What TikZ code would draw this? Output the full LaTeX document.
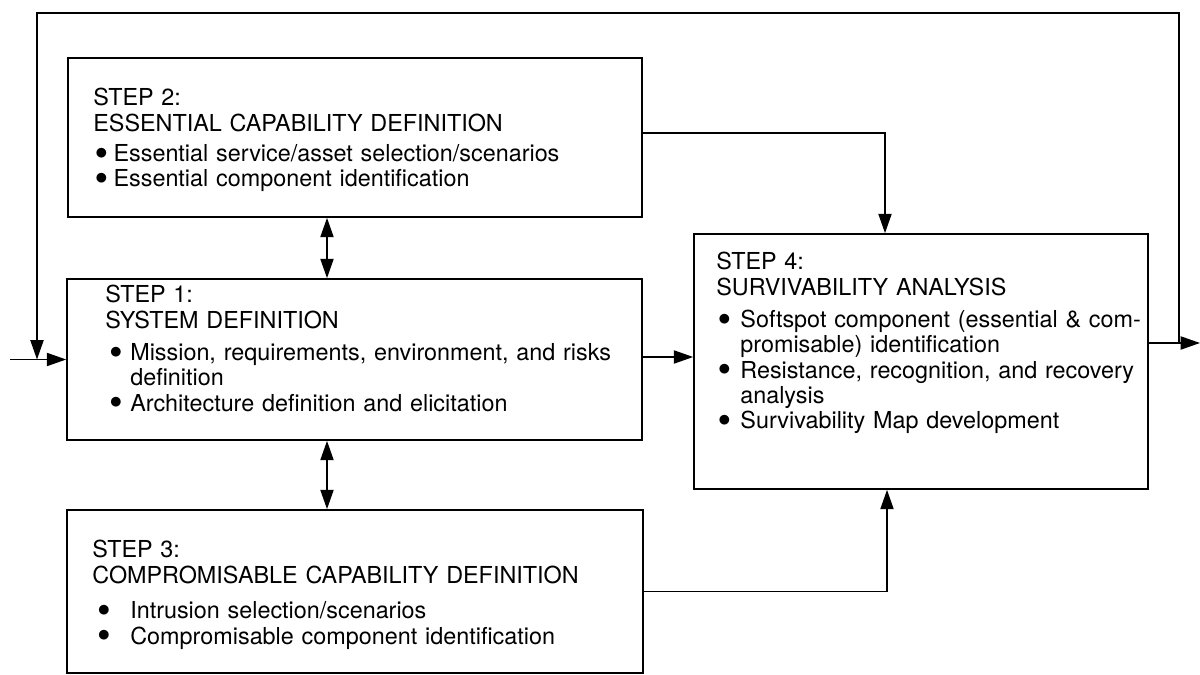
\documentclass[tikz,border=0pt]{standalone}
\usepackage{fontspec}
\setmainfont{TeX Gyre Heros}
\usetikzlibrary{arrows.meta, positioning, calc}

\newlength{\bulind}
\newlength{\txtind}
\newcommand{\setind}[2]{\setlength{\bulind}{#1}\setlength{\txtind}{#2}}
\newcommand{\bul}[1]{\par\hangindent=\txtind\hangafter=1\noindent\makebox[\txtind][l]{\hspace*{\bulind}\raisebox{1.3pt}{$\bullet$}}#1}

\begin{document}
\begin{tikzpicture}[
    x=0.02cm, y=-0.02cm,
    box/.style={rectangle, draw, line width=1pt, inner sep=0pt},
    txt/.style={anchor=north west, inner sep=0pt, align=left, font=\fontsize{13.3pt}{14.4pt}\selectfont},
    arrow/.style={-{Triangle[length=11pt, width=7.5pt]}, line width=0.8pt},
    dblarrow/.style={{Triangle[length=11pt, width=7.5pt]}-{Triangle[length=11pt, width=7.5pt]}, line width=0.8pt}
]
    \useasboundingbox (0,0) rectangle (1200,675);

    % Boxes
    \node[box, minimum width=11.48cm, minimum height=3.18cm] (s2) at (355,137.5) {};
    \node[box, minimum width=11.5cm, minimum height=3.22cm] (s1) at (354.5,359.5) {};
    \node[box, minimum width=11.52cm, minimum height=3.26cm] (s3) at (355,591.5) {};
    \node[box, minimum width=9.08cm, minimum height=5.1cm] (s4) at (921,361.5) {};

    % Texts
    \node[txt, text width=10.8cm] (s2t) at (93,88) {\setind{1pt}{11.5pt}STEP 2:\\ESSENTIAL CAPABILITY DEFINITION\par\vspace{3pt}%
        \bul{Essential service/asset selection/scenarios}%
        \bul{Essential component identification}};
    \node[txt, text width=10.8cm] (s1t) at (105,285) {\setind{2.5pt}{14.2pt}STEP 1:\\SYSTEM DEFINITION\par\vspace{4pt}%
        \bul{Mission, requirements, environment, and risks\newline definition}%
        \bul{Architecture definition and elicitation}};
    \node[txt, text width=10.8cm] (s3t) at (92,540) {\setind{3pt}{21.6pt}STEP 3:\\COMPROMISABLE CAPABILITY DEFINITION\par\vspace{6pt}%
        \bul{Intrusion selection/scenarios}%
        \bul{Compromisable component identification}};
    \node[txt, text width=8.9cm] (s4t) at (716,252) {\setind{1pt}{13.7pt}STEP 4:\\SURVIVABILITY ANALYSIS\par\vspace{4pt}%
        \bul{Softspot component (essential \& com-\newline promisable) identification}%
        \bul{Resistance, recognition, and recovery\newline analysis}%
        \bul{Survivability Map development}};

    % Connectors between steps
    \draw[dblarrow] ([xshift=-0.56cm]s2.south) -- ([xshift=-0.56cm]s2.south |- s1.north);
    \draw[dblarrow] ([xshift=-0.55cm]s1.south) -- ([xshift=-0.55cm]s1.south |- s3.north);
    \draw[arrow] ([yshift=0.05cm]s1.east) -- ([yshift=0.05cm]s1.east -| s4.west);
    \draw[arrow] ([yshift=0.09cm]s2.east) -| ([xshift=-0.72cm]s4.north);
    \draw[arrow] (s3.east) -| ([xshift=-0.68cm]s4.south);

    % Input, output and feedback loop
    \coordinate (in) at (10,359.5);
    \coordinate (fb) at (1179,343);
    \coordinate (out) at (1200,343);
    \coordinate (tl) at (37,13);
    \draw[arrow] (in) -- (s1.west);
    \draw[arrow] (s4.east |- fb) -- (out);
    \draw[arrow] (fb) |- (tl) -- (tl |- in);
\end{tikzpicture}
\end{document}
